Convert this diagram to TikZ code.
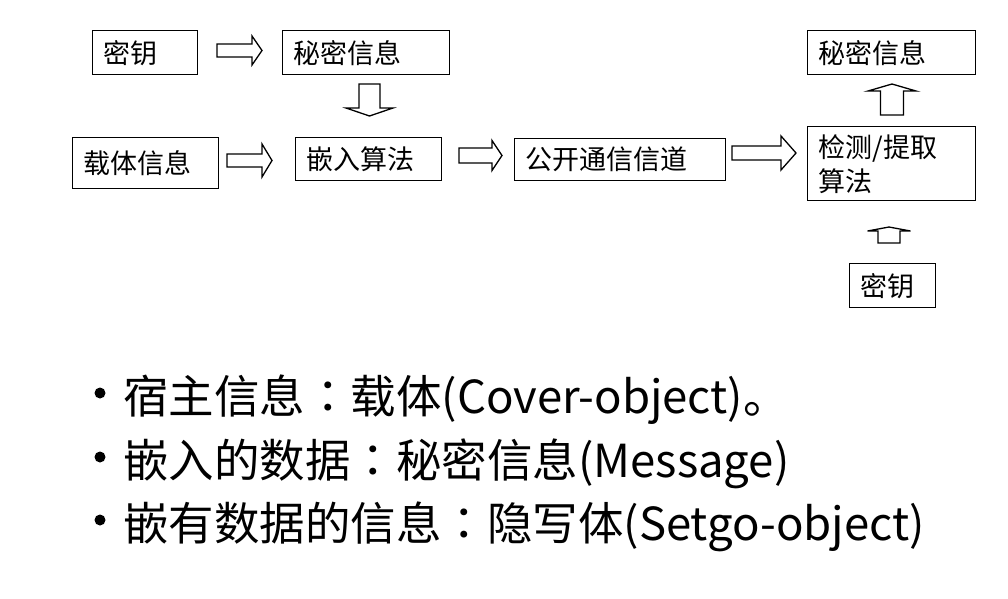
\documentclass[tikz,border=0pt]{standalone}
\usepackage{fontspec}
\setmainfont{Noto Sans CJK SC}
\newfontfamily\tcfont{Noto Sans CJK TC}
\usetikzlibrary{calc}
\newcommand\harrow[6]{\draw[barrow] (#1,{#4-#5}) -- (#2,{#4-#5}) -- (#2,{#4-#6}) -- (#3,#4) -- (#2,{#4+#6}) -- (#2,{#4+#5}) -- (#1,{#4+#5}) -- cycle;}
\newcommand\varrow[6]{\draw[barrow] ({#4-#5},#1) -- ({#4-#5},#2) -- ({#4-#6},#2) -- (#4,#3) -- ({#4+#6},#2) -- ({#4+#5},#2) -- ({#4+#5},#1) -- cycle;}
\newcommand\ccolon{{\tcfont ：}}
\begin{document}
\begin{tikzpicture}[x=1pt,y=-1pt,
  box/.style={draw, line width=1.4pt, anchor=north west, inner xsep=11pt, inner ysep=0pt, align=left, font=\fontsize{27}{34}\selectfont},
  barrow/.style={draw, line width=1.3pt, fill=white, line join=miter},
  bul/.style={anchor=base west, inner sep=0pt, font=\fontsize{45.5}{50}\selectfont},
  dot/.style={circle, fill=black, inner sep=0pt, minimum size=11pt}]
\useasboundingbox[fill=white] (0,0) rectangle (1008,598);
% boxes
\node[box, minimum width=105pt, minimum height=44pt, text width=83pt] (k1) at (92,30) {密钥};
\node[box, minimum width=167pt, minimum height=44pt, text width=145pt] (m1) at (282,30) {秘密信息};
\node[box, minimum width=146pt, minimum height=51pt, text width=124pt] (c1) at (72,137) {载体信息};
\node[box, minimum width=146pt, minimum height=43pt, text width=124pt] (e1) at (295,137) {嵌入算法};
\node[box, minimum width=211pt, minimum height=42pt, text width=189pt] (p1) at (514,138) {公开通信信道};
\node[box, minimum width=168pt, minimum height=74pt, text width=146pt] (d1) at (807,126) {检测/提取\\算法};
\node[box, minimum width=168pt, minimum height=44pt, text width=146pt] (m2) at (807,30) {秘密信息};
\node[box, minimum width=86pt, minimum height=44pt, text width=64pt] (k2) at (849,263) {密钥};
% block arrows
\harrow{217}{252}{262}{50.5}{6.5}{14.5}
\harrow{227}{262}{272}{160.5}{6.5}{16.5}
\harrow{459}{492}{502}{155.5}{7.5}{15}
\harrow{732}{781}{796}{153}{7}{17}
\varrow{84}{108}{116}{369.5}{10.5}{23.5}
\varrow{115}{91}{84}{892}{11.5}{24}
\varrow{243}{231}{227}{889}{11}{21.5}
% bullets
\node[dot] (b1) at (100,393) {};
\node[dot] (b2) at (100,457) {};
\node[dot] (b3) at (100,520) {};
\node[bul] (t1) at (123,413) {宿主信息\ccolon 载体(Cover-object)。};
\node[bul] (t2) at (123,477) {嵌入的数据\ccolon 秘密信息(Message)};
\node[bul] (t3) at (123,540) {嵌有数据的信息\ccolon 隐写体(Setgo-object)};
\end{tikzpicture}
\end{document}
